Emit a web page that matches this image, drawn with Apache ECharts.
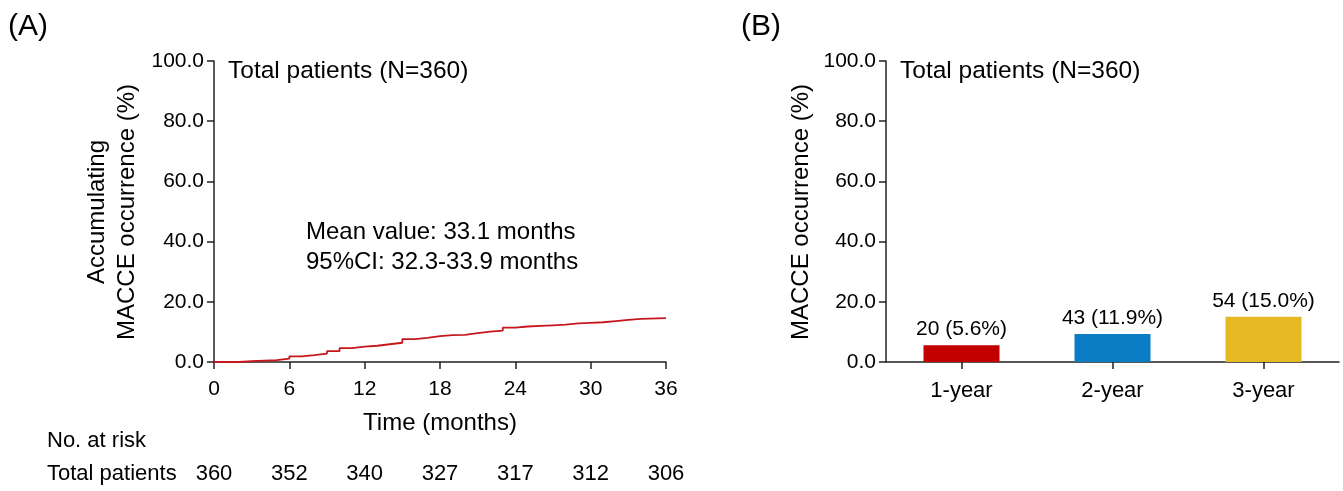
<!DOCTYPE html>
<html>
<head>
<meta charset="utf-8">
<script src="https://cdn.jsdelivr.net/npm/echarts@6/dist/echarts.min.js"></script>
<style>
html,body{margin:0;padding:0;background:#fff;}
#chart{width:1343px;height:491px;}
</style>
</head>
<body>
<div id="chart"></div>
<script>
// Panel A: cumulative MACCE step curve (months, %)
var kmMonths = [0, 2, 3, 5, 6, 7, 8, 9, 10, 11, 12, 13, 14, 15, 16, 17, 18, 19, 20, 21, 22, 23, 24, 25, 26, 27, 28, 29, 30, 31, 32, 33, 34, 36];
var kmPct    = [0, 0.3, 0.6, 1.1, 1.9, 2.3, 2.8, 3.6, 4.6, 5.1, 5.4, 5.9, 6.4, 7.6, 8.0, 8.6, 8.9, 9.0, 9.6, 10.1, 10.4, 11.4, 11.8, 12.0, 12.2, 12.4, 12.8, 13.0, 13.2, 13.6, 14.0, 14.3, 14.6, 14.6];
var timeTicks = [0, 6, 12, 18, 24, 30, 36];
var atRisk = [360, 352, 340, 327, 317, 312, 306];
var yTicks = [0, 20, 40, 60, 80, 100];

// Panel B: bars
var barCats = ['1-year', '2-year', '3-year'];
var barValues = [5.6, 9.3, 15.0];
var barLabels = ['20 (5.6%)', '43 (11.9%)', '54 (15.0%)'];
var barColors = ['#C30000', '#0A7CC4', '#E6B823'];

var FONT = '"Liberation Sans", Arial, sans-serif';
var AX = '#222';

var kmData = kmMonths.map(function (m, i) { return [m, kmPct[i]]; });

function yAxisCommon(gi) {
  return {
    type: 'value', gridIndex: gi, min: 0, max: 100, interval: 20,
    axisLine: { show: true, lineStyle: { color: AX, width: 1.5 } },
    axisTick: { show: true, length: 7, lineStyle: { color: AX, width: 1.5 } },
    splitLine: { show: false },
    axisLabel: { color: '#000', fontSize: 21, fontFamily: FONT, margin: 10,
      formatter: function (v) { return v.toFixed(1); } }
  };
}

var option = {
  animation: false,
  backgroundColor: '#fff',
  grid: [
    { left: 214, top: 61, width: 452, height: 301 },
    { left: 886, top: 61, width: 453, height: 301 }
  ],
  xAxis: [
    {
      type: 'value', gridIndex: 0, min: 0, max: 36, interval: 6,
      name: 'Time (months)', nameLocation: 'middle', nameGap: 49,
      nameTextStyle: { color: '#000', fontSize: 24, fontFamily: FONT },
      axisLine: { show: true, lineStyle: { color: AX, width: 1.5 } },
      axisTick: { show: true, length: 7, lineStyle: { color: AX, width: 1.5 } },
      splitLine: { show: false },
      axisLabel: { color: '#000', fontSize: 21, fontFamily: FONT, margin: 17 }
    },
    {
      type: 'value', gridIndex: 0, min: 0, max: 36, interval: 6, position: 'bottom', offset: 98,
      axisLine: { show: false }, axisTick: { show: false }, splitLine: { show: false },
      axisLabel: { color: '#000', fontSize: 22, fontFamily: FONT, margin: 3,
        formatter: function (v) { return String(atRisk[timeTicks.indexOf(v)]); } }
    },
    {
      type: 'category', gridIndex: 1, data: barCats, boundaryGap: true,
      axisLine: { show: true, lineStyle: { color: AX, width: 1.5 } },
      axisTick: { show: true, length: 7, alignWithLabel: true, lineStyle: { color: AX, width: 1.5 } },
      axisLabel: { color: '#000', fontSize: 22, fontFamily: FONT, margin: 18 }
    }
  ],
  yAxis: [yAxisCommon(0), yAxisCommon(1)],
  series: [
    {
      type: 'line', xAxisIndex: 0, yAxisIndex: 0, step: 'end', symbol: 'none',
      lineStyle: { color: '#C8161D', width: 1.8 }, data: kmData
    },
    {
      type: 'bar', xAxisIndex: 2, yAxisIndex: 1, barWidth: 76,
      data: barValues.map(function (v, i) {
        return { value: v, itemStyle: { color: barColors[i] } };
      }),
      label: { show: true, position: 'top', distance: 5, color: '#000', fontSize: 21, fontFamily: FONT,
        formatter: function (p) { return barLabels[p.dataIndex]; } }
    }
  ],
  graphic: [
    { type: 'text', left: 8, top: 12, style: { text: '(A)', font: '30px ' + FONT, fill: '#000' } },
    { type: 'text', left: 741, top: 12, style: { text: '(B)', font: '30px ' + FONT, fill: '#000' } },
    { type: 'text', x: 228, y: 71, style: { text: 'Total patients (N=360)', font: '24.5px ' + FONT, fill: '#000', textVerticalAlign: 'middle' } },
    { type: 'text', x: 900, y: 71, style: { text: 'Total patients (N=360)', font: '24.5px ' + FONT, fill: '#000', textVerticalAlign: 'middle' } },
    { type: 'text', x: 306, y: 247, style: { text: 'Mean value: 33.1 months\n95%CI: 32.3-33.9 months', font: '24px ' + FONT, lineHeight: 30, fill: '#000', textVerticalAlign: 'middle' } },
    { type: 'text', x: 47, y: 441, style: { text: 'No. at risk', font: '22px ' + FONT, fill: '#000', textVerticalAlign: 'middle' } },
    { type: 'text', x: 47, y: 474, style: { text: 'Total patients', font: '22px ' + FONT, fill: '#000', textVerticalAlign: 'middle' } },
    { type: 'text', x: 112, y: 212, rotation: Math.PI / 2, style: { text: 'Accumulating\nMACCE occurrence (%)', font: '24px ' + FONT, lineHeight: 30, fill: '#000', textAlign: 'center', textVerticalAlign: 'middle' } },
    { type: 'text', x: 801, y: 212, rotation: Math.PI / 2, style: { text: 'MACCE occurrence (%)', font: '24px ' + FONT, fill: '#000', textAlign: 'center', textVerticalAlign: 'middle' } }
  ]
};

var chart = echarts.init(document.getElementById('chart'), null, { renderer: 'canvas' });
chart.setOption(option);
</script>
</body>
</html>
